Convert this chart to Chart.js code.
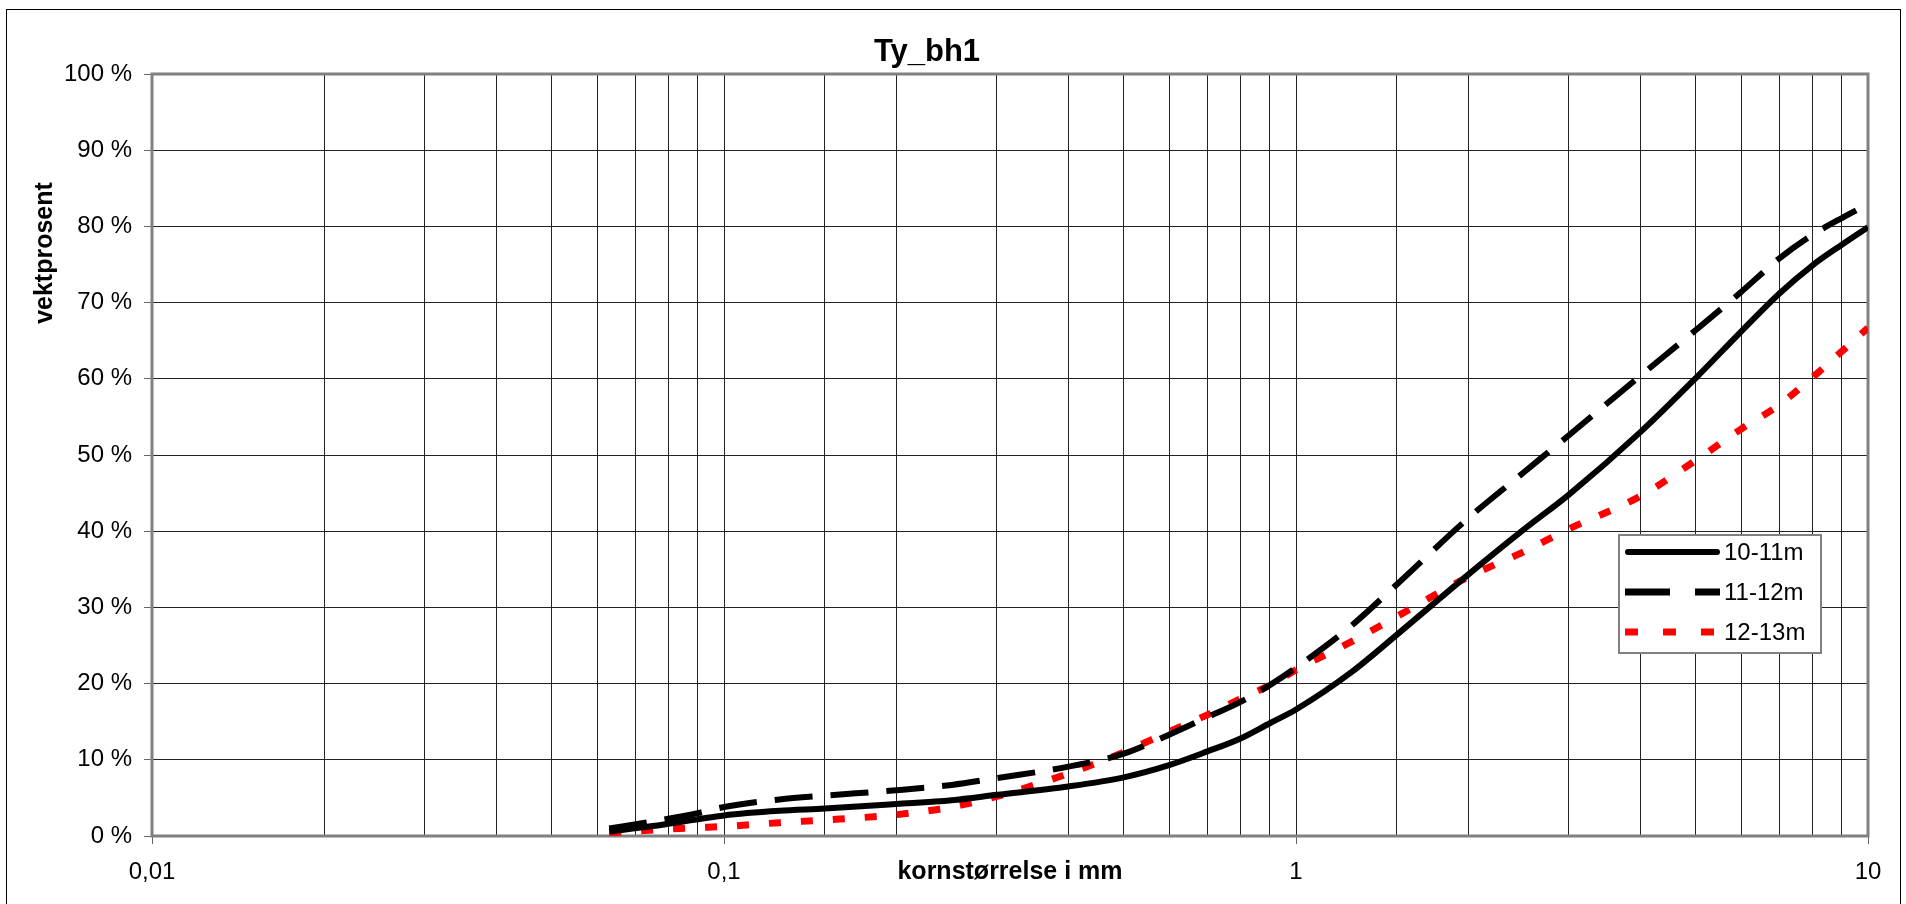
<!DOCTYPE html>
<html>
<head>
<meta charset="utf-8">
<script src="https://cdn.jsdelivr.net/npm/chart.js@4.4.1/dist/chart.umd.min.js"></script>
<style>
  html, body { margin: 0; padding: 0; background: #fff; }
  #wrap { width: 1906px; height: 904px; }
</style>
</head>
<body>
<div id="wrap"><canvas id="myChart" width="1906" height="904"></canvas></div>
<script>
const kornstorrelse = [0.063, 0.075, 0.09, 0.1, 0.125, 0.15, 0.2, 0.25, 0.3, 0.4, 0.5, 0.6, 0.7, 0.8, 0.9, 1, 1.25, 1.5, 2, 2.5, 3, 4, 5, 6, 7, 8, 9, 10];

const serie1011 = [0.6, 1.3, 2.2, 2.7, 3.3, 3.6, 4.2, 4.7, 5.4, 6.5, 7.7, 9.3, 11.1, 12.8, 14.8, 16.6, 21.5, 26.4, 34.3, 40.2, 44.8, 53.0, 60.1, 66.2, 71.2, 74.9, 77.6, 79.9];
const serie1112 = [1.0, 1.9, 3.0, 3.8, 4.8, 5.3, 6.0, 6.7, 7.6, 9.1, 10.8, 13.3, 15.6, 17.6, 19.8, 22.1, 27.6, 33.0, 41.7, 47.7, 52.6, 60.4, 66.4, 71.4, 75.8, 78.9, 81.1, 82.9];
const serie1213 = [0.4, 0.8, 1.1, 1.25, 1.75, 2.1, 2.8, 3.8, 5.2, 8.2, 11.0, 13.7, 15.9, 18.0, 19.8, 21.8, 25.5, 28.8, 34.0, 37.3, 40.3, 44.6, 49.3, 53.4, 56.6, 60.2, 63.6, 66.7];

const seriesNavn = ['10-11m', '11-12m', '12-13m'];

const xTickVerdier = [0.01, 0.1, 1, 10];
const xTickTekster = ['0,01', '0,1', '1', '10'];

const tittel = 'Ty_bh1';
const xTittel = 'kornstørrelse i mm';
const yTittel = 'vektprosent';

const FONT = '"Liberation Sans", Arial, sans-serif';

function punkter(verdier) {
  return kornstorrelse.map((x, i) => ({ x: x, y: verdier[i] }));
}

function erDekade(v) {
  return xTickVerdier.findIndex(t => Math.abs(t - v) < t * 1e-6);
}

// legend-utseende (lengre streker enn i selve plottet)
const legendStrek = [[], [45, 25], [13, 25]];

const ramme = {
  id: 'ramme',
  beforeDraw(chart) {
    const c = chart.ctx;
    c.save();
    c.fillStyle = '#fff';
    c.fillRect(0, 0, chart.width, chart.height);
    c.strokeStyle = '#000';
    c.lineWidth = 1;
    c.strokeRect(6.5, 9.5, 1894, 900);
    c.restore();
  },
  beforeDatasetsDraw(chart) {
    const a = chart.chartArea;
    const c = chart.ctx;
    c.save();
    c.strokeStyle = '#808080';
    c.lineWidth = 3;
    c.strokeRect(a.left, a.top, a.right - a.left, a.bottom - a.top);
    c.restore();
  },
  afterDraw(chart) {
    const c = chart.ctx;
    const a = chart.chartArea;
    c.save();
    c.fillStyle = '#000';
    // tittel
    c.font = 'bold 31px ' + FONT;
    c.textAlign = 'center';
    c.textBaseline = 'alphabetic';
    c.fillText(tittel, 927, 61);
    // x-akse tittel
    c.font = 'bold 25px ' + FONT;
    c.fillText(xTittel, (a.left + a.right) / 2, 879);
    // y-akse tittel
    c.save();
    c.translate(52, 253);
    c.rotate(-Math.PI / 2);
    c.fillText(yTittel, 0, 0);
    c.restore();

    // legend
    const bx = 1619, by = 535, bw = 202, bh = 118;
    c.fillStyle = '#fff';
    c.fillRect(bx, by, bw, bh);
    c.strokeStyle = '#808080';
    c.lineWidth = 2;
    c.strokeRect(bx, by, bw, bh);
    chart.data.datasets.forEach((ds, i) => {
      const yy = 552 + i * 40;
      c.save();
      c.strokeStyle = ds.borderColor;
      c.lineWidth = i === 0 ? 6 : 7;
      c.lineCap = i === 0 ? 'round' : 'butt';
      c.setLineDash(legendStrek[i]);
      c.beginPath();
      c.moveTo(i === 0 ? 1628 : 1625, yy);
      c.lineTo(i === 0 ? 1717 : 1720, yy);
      c.stroke();
      c.restore();
      c.fillStyle = '#000';
      c.font = '24px ' + FONT;
      c.textAlign = 'left';
      c.textBaseline = 'middle';
      c.fillText(ds.label, 1724, yy + 1);
    });
    c.restore();
  }
};

const ctx = document.getElementById('myChart');

new Chart(ctx, {
  type: 'line',
  data: {
    datasets: [
      {
        label: seriesNavn[0],
        data: punkter(serie1011),
        borderColor: '#000',
        borderWidth: 6,
        pointRadius: 0,
        cubicInterpolationMode: 'monotone',
        fill: false
      },
      {
        label: seriesNavn[1],
        data: punkter(serie1112),
        borderColor: '#000',
        borderWidth: 6,
        borderDash: [38, 18],
        pointRadius: 0,
        cubicInterpolationMode: 'monotone',
        fill: false
      },
      {
        label: seriesNavn[2],
        data: punkter(serie1213),
        borderColor: '#ff0000',
        borderWidth: 7,
        borderDash: [12, 20],
        pointRadius: 0,
        cubicInterpolationMode: 'monotone',
        fill: false
      }
    ]
  },
  options: {
    responsive: false,
    animation: false,
    devicePixelRatio: 1,
    layout: { padding: { left: 0, top: 74, right: 38, bottom: 0 } },
    plugins: {
      legend: { display: false },
      title: { display: false },
      tooltip: { enabled: false }
    },
    scales: {
      x: {
        type: 'logarithmic',
        min: 0.01,
        max: 10,
        afterFit: s => { s.height = 68; },
        border: { display: false },
        grid: {
          color: '#222',
          lineWidth: 1,
          tickLength: 8,
          tickColor: c => (c.tick && erDekade(c.tick.value) >= 0) ? '#666' : 'rgba(0,0,0,0)'
        },
        ticks: {
          autoSkip: false,
          maxRotation: 0,
          padding: 14,
          color: '#000',
          font: { family: FONT, size: 24 },
          callback: v => {
            const i = erDekade(v);
            return i >= 0 ? xTickTekster[i] : '';
          }
        }
      },
      y: {
        min: 0,
        max: 100,
        afterFit: s => { s.width = 152; },
        border: { display: false },
        grid: {
          color: '#222',
          lineWidth: 1,
          tickLength: 8,
          tickColor: '#666'
        },
        ticks: {
          stepSize: 10,
          padding: 12,
          color: '#000',
          font: { family: FONT, size: 24 },
          callback: v => v + ' %'
        }
      }
    }
  },
  plugins: [ramme]
});
</script>
</body>
</html>
